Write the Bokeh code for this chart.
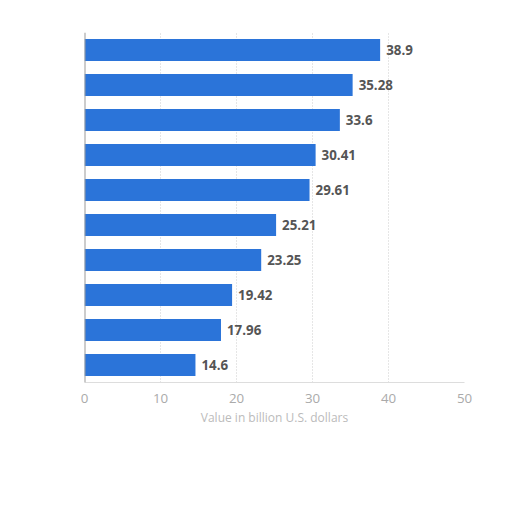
from bokeh.plotting import figure
from bokeh.models import ColumnDataSource, Range1d, FactorRange, Span
from bokeh.core.properties import value
from bokeh.embed import file_html
from bokeh.resources import INLINE

categories = ["Item 1", "Item 2", "Item 3", "Item 4", "Item 5",
              "Item 6", "Item 7", "Item 8", "Item 9", "Item 10"]
values = [38.9, 35.28, 33.6, 30.41, 29.61, 25.21, 23.25, 19.42, 17.96, 14.6]
labels = ["38.9", "35.28", "33.6", "30.41", "29.61", "25.21", "23.25", "19.42", "17.96", "14.6"]
x_ticks = [0, 10, 20, 30, 40, 50]
x_title = "Value in billion U.S. dollars"

src = ColumnDataSource(dict(cat=categories, val=values, lab=labels))

p = figure(width=504, height=464, output_backend="svg", toolbar_location=None,
           x_range=Range1d(0, 50), y_range=FactorRange(*reversed(categories)),
           min_border_left=84, min_border_right=40, min_border_top=32, min_border_bottom=82)
p.outline_line_color = None
p.background_fill_color = "white"

p.hbar(y="cat", right="val", left=0, height=0.63, source=src,
       fill_color="#2b74d9", line_color=None)
p.text(x="val", y="cat", text="lab", source=src, x_offset=6,
       text_baseline="middle", text_align="left",
       text_font=value("Open Sans"), text_font_style="bold",
       text_font_size="10pt", text_color="#555555")

p.xaxis.ticker = x_ticks
p.xaxis.axis_label = x_title
p.xaxis.axis_label_text_font_size = "9pt"
p.xaxis.axis_label_text_font_style = "normal"
p.xaxis.axis_label_text_color = "#bbbbbb"
p.xaxis.axis_label_text_font = "Open Sans"
p.xaxis.axis_label_standoff = 3
p.xaxis.major_label_text_color = "#aaaaaa"
p.xaxis.major_label_text_font = "Open Sans"
p.xaxis.major_label_text_font_size = "10pt"
p.xaxis.major_label_standoff = 5
p.xaxis.axis_line_color = "#dddddd"
p.xaxis.major_tick_line_color = None
p.xaxis.minor_tick_line_color = None

p.yaxis.visible = False
p.add_layout(Span(location=0, dimension="height", line_color="#999999", line_width=2))

p.xgrid.grid_line_color = "#cccccc"
p.xgrid.grid_line_dash = "1 2"
p.ygrid.grid_line_color = None

open("out.html", "w").write(file_html(p, INLINE))
